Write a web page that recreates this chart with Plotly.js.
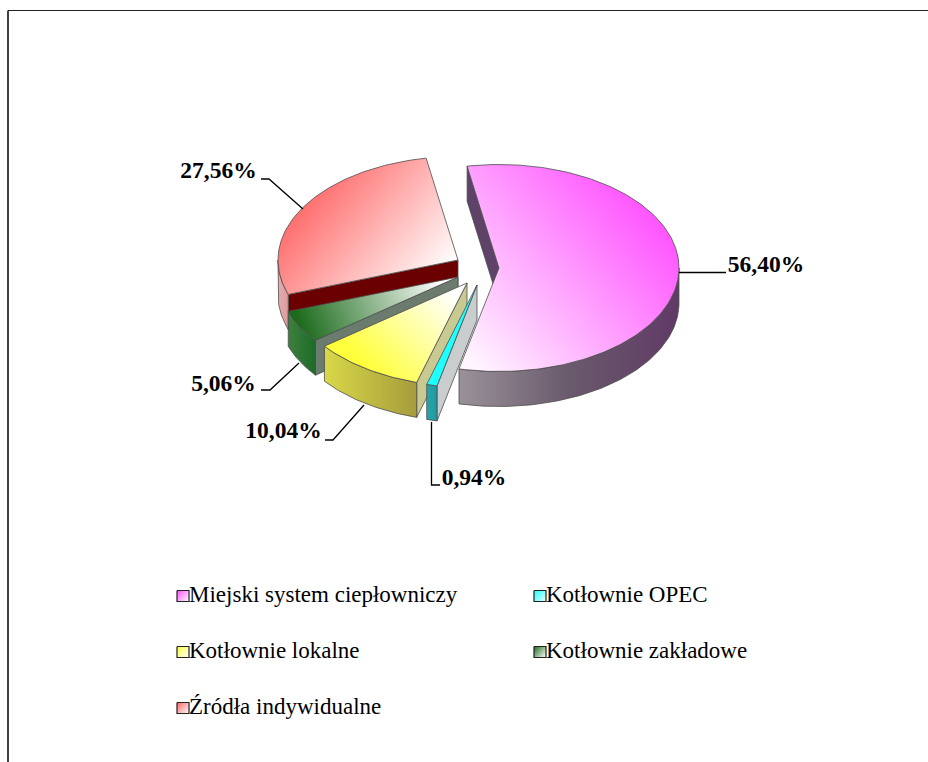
<!DOCTYPE html>
<html><head><meta charset="utf-8">
<script src="https://cdn.plot.ly/plotly-3.0.1.min.js"></script>
<style>html,body{margin:0;padding:0;background:#fff}#c{width:928px;height:762px}</style>
</head><body><div id="c"></div>
<script>
// Data
const categories = ['Miejski system ciepłowniczy','Kotłownie OPEC','Kotłownie lokalne','Kotłownie zakładowe','Źródła indywidualne'];
const values = [56.40, 0.94, 10.04, 5.06, 27.56];

// Pie projection
const startAngle = -10.2, rx = 180, ry = 103.5, depth = 35;
const centreX = [499, 477, 467, 458, 458];
const centreY = [268, 285, 283, 277, 260];
const drawOrder = [4, 3, 2, 0, 1];

// Colours and gradients (colour, colour, x1, y1, x2, y2)
const topStyle = [
  ['#ff4dff','#fff6ff',655,200,470,362],
  ['#1fffff','#1fffff',430,384,477,286],
  ['#ffff3c','#ffffff',372,372,452,292],
  ['#1c6b1c','#ffffff',305,338,442,282],
  ['#ff6464','#ffffff',318,170,445,275]
];
const wallStyle = [['#9a929a','#603a66',458,679],['#2aa5ad','#1f9aa0',426,437],['#d8d848','#a69c3c',325,417],['#3f7f3f','#1c6b28',288,316],['#e6acac','#dc9a9a',278,289]];
const wallMid = ['#6a5a6c', null, null, null, null];
const faceColor = ['#5f4268','#c9cdcd','#c9c992','#6b7b6d','#6a0000'];
const legendCol = [177, 177+357], legendRow = [596, 652, 708], legendWidth = 12, legendHeight = 11;
const legendCell = [[0,0],[1,0],[0,1],[1,1],[0,2]];
const labelX = [766, 474, 283.5, 223.5, 218.5];
const labelY = [266, 479, 432, 385, 172];
const leaders = [
  [[679,272.5],[726,272.5]],
  [[431.5,422],[431.5,485],[440,485]],
  [[364,405],[333,440],[325,440]],
  [[299,363],[270,390],[261,390]],
  [[303,209],[269,179],[261,179]]
];

const rad = d => d*Math.PI/180;
const pt = (i,t,dz=0) => [centreX[i]+rx*Math.sin(rad(t)), centreY[i]-ry*Math.cos(rad(t))+dz];
const arc = (i,a,b,dz=0) => { const p=[], n=Math.max(2,Math.ceil(Math.abs(b-a)));
  for(let k=0;k<=n;k++) p.push(pt(i,a+(b-a)*k/n,dz)); return p; };

const total = values.reduce((a,b)=>a+b,0);
const angles = []; let acc = startAngle;
values.forEach(v=>{ const s=acc; acc+=v/total*360; angles.push([s,acc]); });

const traces = [], gradFix = [];
function poly(pts, fill, grad){
  const close = pts.concat([pts[0]]);
  const tr = {x:close.map(p=>p[0]), y:close.map(p=>p[1]), mode:'lines', fill:'toself',
    line:{color:'#4d4d4d',width:0.8}, hoverinfo:'skip', showlegend:false, type:'scatter'};
  if(grad){
    const stops = fill.map((c,k)=>[k/(fill.length-1),c]);
    tr.fillgradient={type:'horizontal',colorscale:stops,start:grad[0],stop:grad[2]};
    tr.fillcolor=fill[0]; gradFix.push([traces.length,grad]); }
  else tr.fillcolor=fill;
  traces.push(tr);
}
drawOrder.forEach(i=>{
  const [a,b]=angles[i];
  // radial face
  const e0 = pt(i,a), e1 = pt(i,a,depth);
  poly([[centreX[i],centreY[i]],e0,e1,[centreX[i],centreY[i]+depth]], faceColor[i]);
  // outer wall (front half only)
  const wa=Math.max(a,90), wb=Math.min(b,270);
  if(wb>wa){
    const w=wallStyle[i];
    poly(arc(i,wa,wb).concat(arc(i,wb,wa,depth)), wallMid[i]?[w[0],wallMid[i],w[1]]:[w[0],w[1]], [w[2],0,w[3],0]);
  }
  // top
  const s=topStyle[i];
  poly([[centreX[i],centreY[i]]].concat(arc(i,a,b)), [s[0],s[1]], s.slice(2));
});
// legend swatches
categories.forEach((c,i)=>{
  const X=legendCol[legendCell[i][0]], Y=legendRow[legendCell[i][1]], w=legendWidth, h=legendHeight/2;
  const s=topStyle[i];
  poly([[X,Y-h],[X+w,Y-h],[X+w,Y+h],[X,Y+h]], [s[0],i===1?'#e8ffff':'#ffffff'], [X,Y-h,X+w,Y+h]);
  traces[traces.length-1].line={color:'#222',width:1.2};
});
// leader lines
leaders.forEach(l=>traces.push({type:'scatter',mode:'lines',x:l.map(p=>p[0]),y:l.map(p=>p[1]),
  line:{color:'#000',width:1.3},hoverinfo:'skip',showlegend:false}));
// value labels
traces.push({type:'scatter',mode:'text',x:labelX,y:labelY,
  text:values.map(v=>v.toFixed(2).replace('.',',')+'%'),textposition:'middle center',
  textfont:{family:'"Liberation Serif",serif',size:23.5,color:'#000',weight:'bold'},
  texttemplate:'<b>%{text}</b>',hoverinfo:'skip',showlegend:false});
// legend labels
traces.push({type:'scatter',mode:'text',x:legendCell.map(c=>legendCol[c[0]]+12),y:legendCell.map(c=>legendRow[c[1]]),
  text:categories,textposition:'middle right',
  textfont:{family:'"Liberation Serif",serif',size:23,color:'#000'},hoverinfo:'skip',showlegend:false});

const axis = r => ({range:r,visible:false,fixedrange:true,showgrid:false,zeroline:false});
const layout = {width:928,height:762,margin:{l:0,r:0,t:0,b:0,pad:0},paper_bgcolor:'#fff',plot_bgcolor:'#fff',
  xaxis:axis([0,928]),yaxis:axis([762,0]),showlegend:false,
  shapes:[
    {type:'line',xref:'x',yref:'y',x0:8,x1:8,y0:10.5,y1:762,line:{color:'#000',width:1.5}},
    {type:'line',xref:'x',yref:'y',x0:8,x1:928,y0:10.5,y1:10.5,line:{color:'#222',width:1.2}}
  ]};
Plotly.newPlot('c',traces,layout,{staticPlot:true,displayModeBar:false}).then(gd=>{
  // Turn the native horizontal fill gradients into the diagonal ones of the reference
  const groups = gd.querySelectorAll('.scatterlayer .trace');
  gradFix.forEach(([idx,g])=>{
    const f = groups[idx] && groups[idx].querySelector('.js-fill');
    if(!f) return;
    const m = (f.style.fill||f.getAttribute('style')||'').match(/url\(["']?#([^"')]+)/);
    if(!m) return;
    const el = document.getElementById(m[1]);
    if(!el) return;
    el.setAttribute('x1',g[0]);el.setAttribute('y1',g[1]);el.setAttribute('x2',g[2]);el.setAttribute('y2',g[3]);
  });
});
</script></body></html>
